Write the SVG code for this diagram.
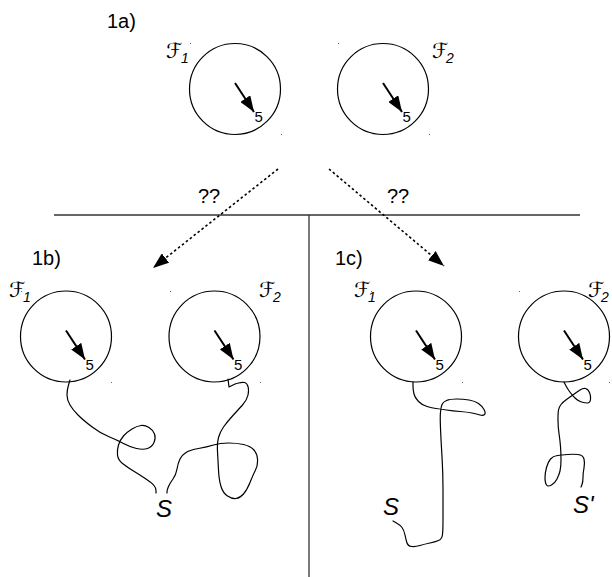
<svg xmlns="http://www.w3.org/2000/svg" width="612" height="577" viewBox="0 0 612 577">
<style>
.c{fill:none;stroke:#000;stroke-width:1.2}
.w{fill:none;stroke:#000;stroke-width:1.2;stroke-linejoin:round;stroke-linecap:round}
.ln{stroke:#333;stroke-width:1.3;fill:none}
.dash{stroke:#000;stroke-width:1.6;stroke-dasharray:2.5,2.5;fill:none}
.t{font-family:"Liberation Sans",Arial,sans-serif;fill:#000}
.big{font-size:20px}
.five{font-size:15px}
.S{font-size:24px;font-style:italic}
.F{font-family:"DejaVu Serif","DejaVu Sans",serif;font-size:21px;font-style:italic}
.sub{font-family:"Liberation Sans",Arial,sans-serif;font-size:14px;font-style:italic}
.dot{fill:#666}
</style>
<defs>
<marker id="hd" viewBox="0 0 16 12" refX="16" refY="6" markerUnits="userSpaceOnUse" markerWidth="16" markerHeight="12" orient="auto"><path d="M0,0 L16,6 L0,12 z" fill="#000"/></marker>
<marker id="nh" viewBox="0 0 16 12" refX="16" refY="6" markerUnits="userSpaceOnUse" markerWidth="16" markerHeight="12" orient="auto"><path d="M0,0 L16,6 L0,12 z" fill="#000"/></marker>
<g id="node">
<circle r="45.5" class="c"/>
<line x1="0" y1="-6" x2="19" y2="23" stroke="#000" stroke-width="2" marker-end="url(#nh)"/>
<text x="19.5" y="33" class="t five">5</text>
</g>
</defs>

<g id="frame">
<line x1="54" y1="215" x2="580" y2="215" class="ln"/>
<line x1="309" y1="215" x2="309" y2="577" class="ln"/>
</g>

<text x="107" y="28" class="t big">1a)</text>
<text x="32" y="265" class="t big">1b)</text>
<text x="335" y="265" class="t big">1c)</text>

<g id="a-F1"><use href="#node" x="235" y="89"/><text x="166" y="58" class="F">ℱ</text><text x="181" y="63" class="sub">1</text></g>
<g id="a-F2"><use href="#node" x="383" y="89"/><text x="432" y="58" class="F">ℱ</text><text x="446" y="63" class="sub">2</text></g>
<g id="b-F1"><use href="#node" x="66" y="336.5"/><text x="9" y="297" class="F">ℱ</text><text x="23" y="302" class="sub">1</text></g>
<g id="b-F2"><use href="#node" x="214.5" y="336.5"/><text x="259" y="297" class="F">ℱ</text><text x="273" y="302" class="sub">2</text></g>
<g id="c-F1"><use href="#node" x="416" y="336.5"/><text x="354" y="297" class="F">ℱ</text><text x="368" y="302" class="sub">1</text></g>
<g id="c-F2"><use href="#node" x="564" y="336.5"/><text x="588" y="297" class="F">ℱ</text><text x="601" y="302" class="sub">2</text></g>

<g id="dots">
<rect x="190" y="43" width="1" height="1" class="dot"/><rect x="281" y="134" width="1" height="1" class="dot"/>
<rect x="338" y="43" width="1" height="1" class="dot"/><rect x="429" y="134" width="1" height="1" class="dot"/>
<rect x="21" y="291" width="1" height="1" class="dot"/><rect x="111" y="382" width="1" height="1" class="dot"/>
<rect x="170" y="291" width="1" height="1" class="dot"/><rect x="260" y="382" width="1" height="1" class="dot"/>
<rect x="371" y="291" width="1" height="1" class="dot"/><rect x="462" y="382" width="1" height="1" class="dot"/>
<rect x="519" y="291" width="1" height="1" class="dot"/><rect x="609" y="382" width="1" height="1" class="dot"/>
</g>

<g id="connectors">
<line x1="278" y1="169" x2="153" y2="268" class="dash" marker-end="url(#hd)"/>
<line x1="329" y1="169" x2="444" y2="266" class="dash" marker-end="url(#hd)"/>
<path class="w" d="M70,380 L68.5,385 Q67,390 67,395 Q67,400 70,405 Q73,410 78,415 Q83,420 91.5,426.5 Q100,433 108.5,436.5 Q117,440 123.5,443.5 Q130,447 136.5,448.5 Q143,450 147.5,448.5 Q152,447 154,442.5 Q156,438 154.5,434 Q153,430 149,427.5 Q145,425 141,425.5 Q137,426 132,429 Q127,432 123.5,436 Q120,440 118.5,445 Q117,450 117.5,455 Q118,460 122.5,463.5 Q127,467 133.5,471 Q140,475 146,479 Q152,483 154,485.5 Q156,488 156,490.5 L156,493"/>
<path class="w" d="M228,379 L229,387 L235,384 L238.5,383 Q242,382 244.5,382.5 Q247,383 248,386.5 Q249,390 248,395 Q247,400 242.5,405 Q238,410 232.5,416 Q227,422 223.5,427 Q220,432 218.5,437.5 Q217,443 217.5,451.5 Q218,460 218.5,470 Q219,480 221,486.5 Q223,493 227.5,496 Q232,499 236,498.5 Q240,498 243.5,494 Q247,490 250,482.5 Q253,475 255.5,470 Q258,465 257.5,459 Q257,453 253.5,449.5 Q250,446 243.5,444.5 Q237,443 228.5,443 Q220,443 213.5,445 Q207,447 198.5,448.5 Q190,450 186,452.5 Q182,455 180,459 Q178,463 177,469 Q176,475 173,479 Q170,483 168.5,486.5 Q167,490 167,491.5 L167,493"/>
<path class="w" d="M413,382 L413,386 Q413,390 414,394 Q415,398 418.5,401.5 Q422,405 427,406.5 Q432,408 436,408.5 Q440,409 446.5,410 Q453,411 460,411.5 Q467,412 472,413 Q477,414 480,415 Q483,416 484.5,414.5 Q486,413 484,409.5 Q482,406 478.5,403.5 Q475,401 469,400 Q463,399 456.5,399 Q450,399 446.5,400.5 Q443,402 442,404.5 Q441,407 440.5,412 Q440,417 440.5,428.5 Q441,440 442,456.5 Q443,473 443,490 Q443,507 443,518.5 Q443,530 442.5,534.5 Q442,539 438.5,540.5 Q435,542 430,543 Q425,544 420,545.5 Q415,547 411.5,546.5 Q408,546 407,543 Q406,540 405,535 Q404,530 402,527.5 Q400,525 396.5,523 L393,521"/>
<path class="w" d="M564,382 L565.5,385 Q567,388 569.5,391.5 Q572,395 575,398 Q578,401 581.5,402 Q585,403 587.5,403 Q590,403 590.5,399.5 Q591,396 589.5,392.5 Q588,389 585.5,388.5 Q583,388 580,390 Q577,392 573.5,394.5 Q570,397 566.5,399.5 Q563,402 561,404.5 Q559,407 558.5,410 Q558,413 558,420 Q558,427 559,433.5 Q560,440 560.5,446.5 Q561,453 561,460 Q561,467 560,471 Q559,475 557,479 Q555,483 551.5,485 Q548,487 546.5,485 Q545,483 545,478 Q545,473 546.5,467.5 Q548,462 550.5,459 Q553,456 557.5,455.5 Q562,455 567.5,454.5 Q573,454 578,454.5 Q583,455 584,459 Q585,463 584,468 Q583,473 583,477.5 Q583,482 582,484.5 L581,487"/>
</g>

<text x="198" y="203" class="t big">??</text>
<text x="387" y="203" class="t big">??</text>
<text x="156" y="517" class="t S">S</text>
<text x="383" y="515" class="t S">S</text>
<text x="573" y="513" class="t S">S'</text>
</svg>
